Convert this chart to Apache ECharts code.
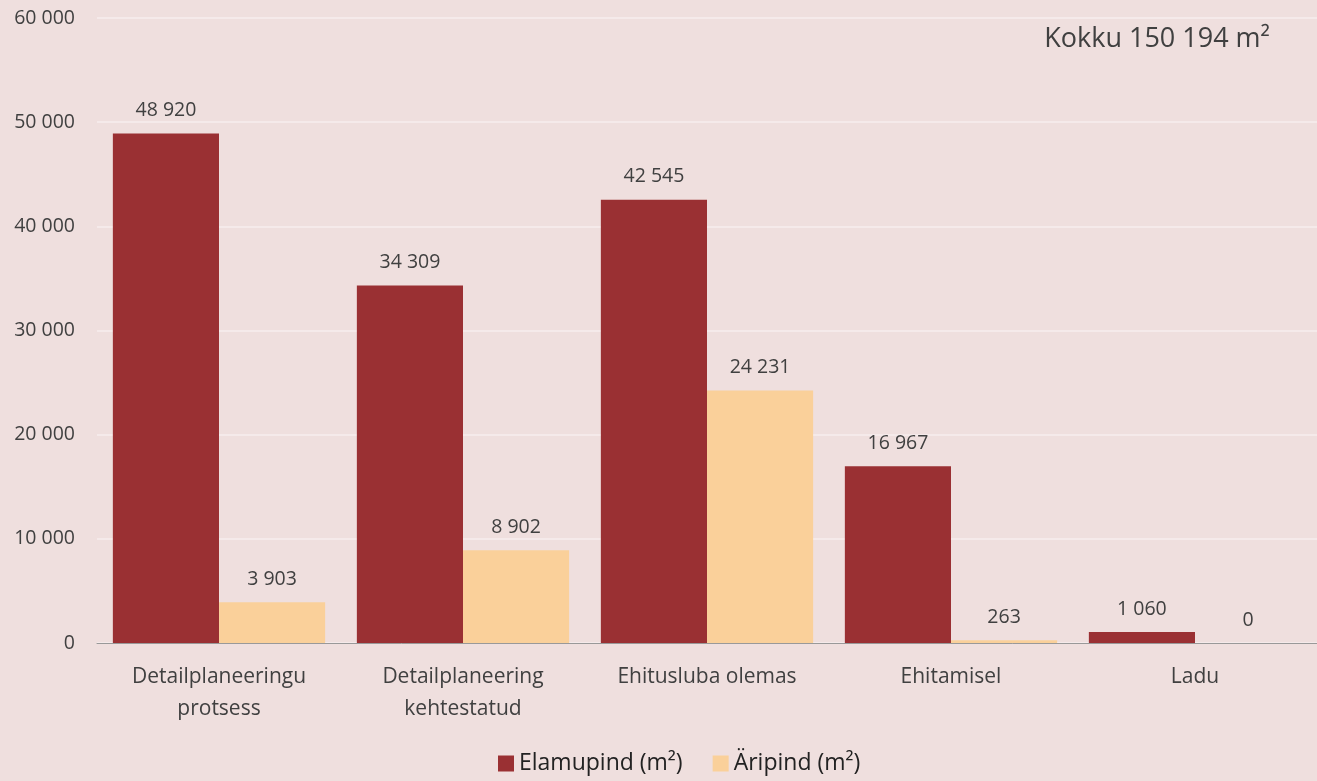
<!DOCTYPE html>
<html><head><meta charset="utf-8">
<script src="https://cdn.jsdelivr.net/npm/echarts@6/dist/echarts.min.js"></script>
<style>html,body{margin:0;padding:0;background:#EFDFDE;}#c{width:1317px;height:781px;}</style>
</head><body><div id="c"></div>
<script>
const categories = ['Detailplaneeringu\nprotsess', 'Detailplaneering\nkehtestatud', 'Ehitusluba olemas', 'Ehitamisel', 'Ladu'];
const elamupind = [48920, 34309, 42545, 16967, 1060];
const aripind = [3903, 8902, 24231, 263, 0];
const seriesNames = ['Elamupind (m²)', 'Äripind (m²)'];
const totalText = 'Kokku 150 194 m²';

const fmt = v => String(v).replace(/\B(?=(\d{3})+(?!\d))/g, ' ');
const FONT = 'Open Sans';
const chart = echarts.init(document.getElementById('c'));
const labelCfg = {show: true, position: 'top', distance: 13, color: '#404040', fontSize: 19.5, fontFamily: FONT, formatter: p => fmt(p.value)};
chart.setOption({
  backgroundColor: '#EFDFDE',
  textStyle: {fontFamily: FONT},
  graphic: [{type: 'text', right: 47, top: 26, style: {text: totalText, font: '27px "Open Sans"', fill: '#404040'}}],
  legend: {bottom: 1, left: 493, itemWidth: 16, itemHeight: 16, itemGap: 30, icon: 'rect',
    textStyle: {color: '#222', fontSize: 23, fontFamily: FONT, padding: [0, 0, 0, 0]}, data: seriesNames},
  grid: {left: 97, right: 0, top: 18, bottom: 138, containLabel: false},
  xAxis: {type: 'category', data: categories,
    axisLine: {lineStyle: {color: '#999', width: 1}}, axisTick: {show: false},
    axisLabel: {color: '#404040', fontSize: 21, fontFamily: FONT, margin: 18, lineHeight: 32}},
  yAxis: {type: 'value', min: 0, max: 60000, interval: 10000,
    axisLabel: {color: '#404040', fontSize: 19.5, fontFamily: FONT, margin: 22, formatter: v => fmt(v)},
    splitLine: {lineStyle: {color: '#F7EEEE', width: 1.5}}, axisLine: {show: false}},
  series: [
    {name: seriesNames[0], type: 'bar', data: elamupind, barGap: '0%', barCategoryGap: '13%', itemStyle: {color: '#9A3033'}, label: labelCfg},
    {name: seriesNames[1], type: 'bar', data: aripind, itemStyle: {color: '#FAD09A'}, label: labelCfg}
  ]
});
</script></body></html>
